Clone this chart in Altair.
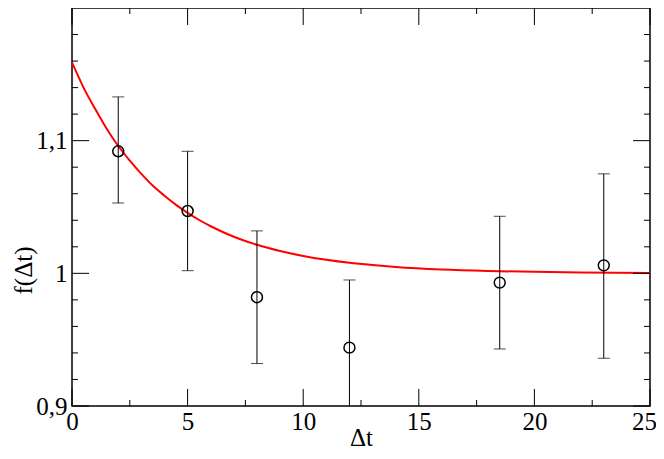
import altair as alt
import pandas as pd

# data points
t_pts = [2, 5, 8, 12, 18.5, 23]
f_pts = [1.092, 1.047, 0.982, 0.944, 0.993, 1.006]
err_lo = [1.053, 1.002, 0.932, 0.894, 0.943, 0.936]
err_hi = [1.133, 1.092, 1.032, 0.995, 1.043, 1.075]

# red fitted curve
fit_t = [0, 0.5, 1, 1.5, 2, 2.5, 3, 3.5, 4, 4.5, 5, 5.5, 6, 7, 8, 9, 10, 11,
         12, 13, 14, 16, 18, 20, 22, 25]
fit_f = [1.159, 1.140, 1.124, 1.109, 1.096, 1.085, 1.075, 1.066, 1.0585, 1.0516,
         1.0456, 1.0402, 1.0355, 1.0276, 1.0215, 1.0168, 1.0131, 1.0102,
         1.0079, 1.0062, 1.0048, 1.0029, 1.0018, 1.0011, 1.0007, 1.0003]

x_major = [0, 5, 10, 15, 20, 25]
x_minor = [2.5, 7.5, 12.5, 17.5, 22.5]
y_major = [0.9, 1.0, 1.1]
y_minor = [0.92, 0.94, 0.96, 0.98, 1.02, 1.04, 1.06, 1.08, 1.12, 1.14, 1.16, 1.18]

W, H = 578, 398
FONT = "Times New Roman, Liberation Serif, serif"
MAJ, MIN = 17, 6

pts = pd.DataFrame({"t": t_pts, "f": f_pts, "lo": err_lo, "hi": err_hi})
fit = pd.DataFrame({"t": fit_t, "f": fit_f})
xmaj = pd.DataFrame({"t": x_major})
xmin = pd.DataFrame({"t": x_minor})
ymaj = pd.DataFrame({"f": y_major})
ymin = pd.DataFrame({"f": y_minor})

xs = alt.Scale(domain=[0, 25], nice=False, zero=False)
ys = alt.Scale(domain=[0.9, 1.2], nice=False, zero=False)

x_axis = alt.Axis(values=x_major, ticks=False, domain=False, grid=False,
                  labelFont=FONT, labelFontSize=25, labelColor="black",
                  labelPadding=3,
                  labelOffset={"condition": {"test": "datum.value == 25", "value": -6},
                               "value": 0},
                  title="Δt", titleFont=FONT, titleFontSize=25,
                  titleFontWeight="normal", titleColor="black", titleY=19,
                  labelFlush=False, labelOverlap=False)
y_axis = alt.Axis(values=y_major, ticks=False, domain=False, grid=False,
                  labelFont=FONT, labelFontSize=25, labelColor="black",
                  labelPadding=5,
                  labelExpr="replace(format(datum.value, '.1~f'), '.', ',')",
                  title="f(Δt)", titleFont=FONT, titleFontSize=25,
                  titleFontWeight="normal", titleColor="black",
                  titleX=-36, titleY=262, labelFlush=False, labelOverlap=False)


def X(field):
    return alt.X(field, type="quantitative", scale=xs, axis=x_axis)


def Y(field):
    return alt.Y(field, type="quantitative", scale=ys, axis=y_axis)


curve = alt.Chart(fit).mark_line(color="#ff0000", strokeWidth=2,
                                 interpolate="monotone", clip=True).encode(
    x=X("t"), y=Y("f"))

bars = alt.Chart(pts).mark_rule(color="black", strokeWidth=1, clip=True).encode(
    x=X("t"), y=Y("lo"), y2="hi:Q")
cap_lo = alt.Chart(pts).mark_tick(color="black", thickness=1, size=12,
                                  orient="horizontal", clip=True).encode(
    x=X("t"), y=Y("lo"))
cap_hi = alt.Chart(pts).mark_tick(color="black", thickness=1, size=12,
                                  orient="horizontal", clip=True).encode(
    x=X("t"), y=Y("hi"))
circles = alt.Chart(pts).mark_point(shape="circle", filled=False, color="black",
                                    strokeWidth=1.5, size=120, opacity=1).encode(
    x=X("t"), y=Y("f"))


def xticks(df, length):
    bot = alt.Chart(df).mark_rule(color="black", strokeWidth=1).encode(
        x=X("t"), y=alt.value(H), y2=alt.value(H - length))
    top = alt.Chart(df).mark_rule(color="black", strokeWidth=1).encode(
        x=X("t"), y=alt.value(0), y2=alt.value(length))
    return [bot, top]


def yticks(df, length):
    left = alt.Chart(df).mark_rule(color="black", strokeWidth=1).encode(
        y=Y("f"), x=alt.value(0), x2=alt.value(length))
    right = alt.Chart(df).mark_rule(color="black", strokeWidth=1).encode(
        y=Y("f"), x=alt.value(W), x2=alt.value(W - length))
    return [left, right]


layers = ([curve, bars, cap_lo, cap_hi, circles]
          + xticks(xmaj, MAJ) + xticks(xmin, MIN)
          + yticks(ymaj, MAJ) + yticks(ymin, MIN))

chart = alt.layer(*layers).properties(
    width=W, height=H,
    autosize=alt.AutoSizeParams(type="none"),
    padding={"left": 64, "top": 0, "right": 6, "bottom": 45},
    background="white",
).configure_view(stroke="black", strokeWidth=1.5)

chart.save("out.html", embed_options={"renderer": "svg", "actions": False})
